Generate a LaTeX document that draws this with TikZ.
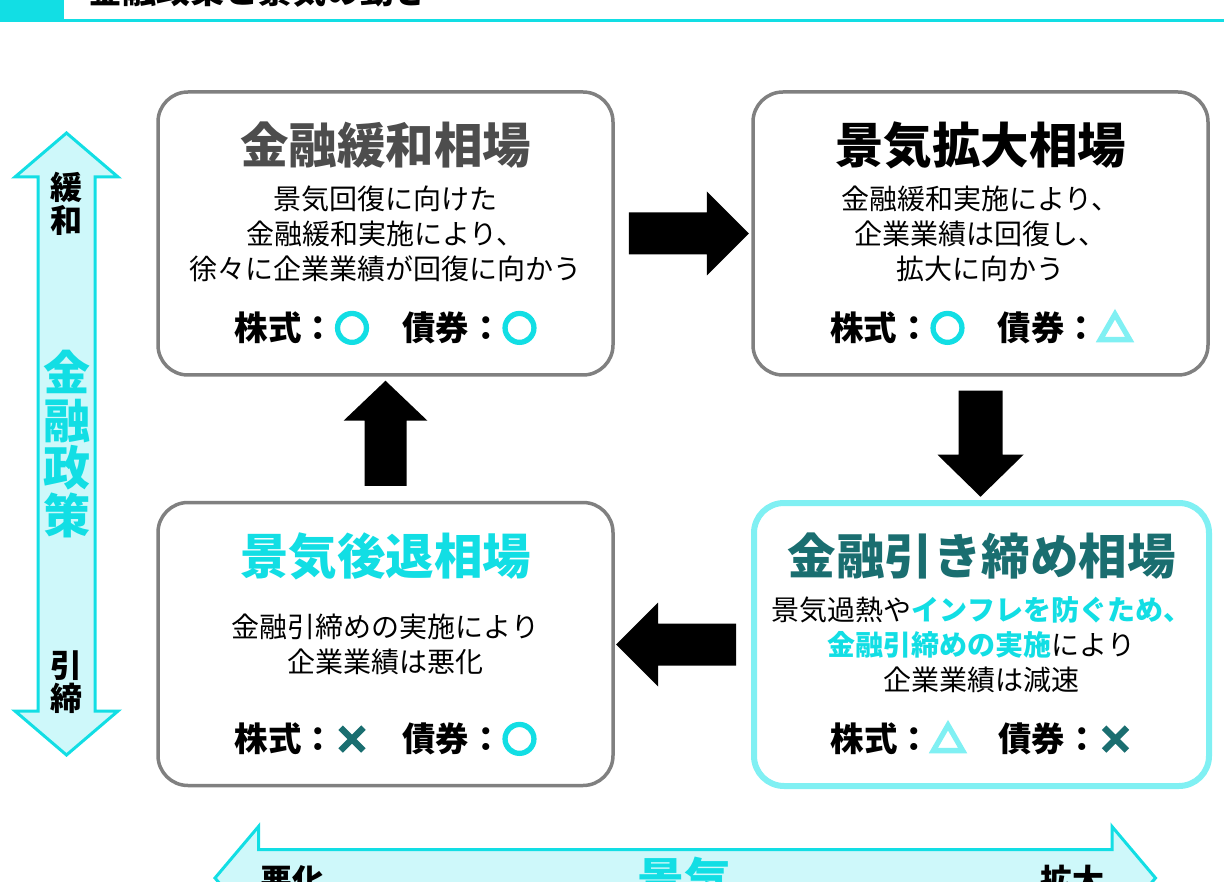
\documentclass[tikz,border=0pt]{standalone}
\usepackage{fontspec}
\newfontfamily\jpfont{Noto Sans CJK JP}
\newfontfamily\markfont[FakeBold=12]{Noto Sans CJK JP}
\usetikzlibrary{calc}

\definecolor{kcyan}{RGB}{18,222,228}
\definecolor{klight}{RGB}{128,240,243}
\definecolor{kpale}{RGB}{206,248,250}
\definecolor{kteal}{RGB}{26,110,112}
\definecolor{boxgray}{RGB}{128,128,128}
\definecolor{titlegray}{RGB}{77,77,77}

\begin{document}
\begin{tikzpicture} [x=1pt, y=-1pt, font=\jpfont,
  phase/.style={draw=boxgray, line width=3.5pt, rounded corners=30pt, fill=white,
    minimum width=455pt, minimum height=283pt, inner sep=0pt},
  phasehot/.style={phase, draw=klight, line width=6pt},
  phasetitle/.style={inner sep=0pt, font={\jpfont\bfseries\fontsize{48.5}{50}\selectfont}},
  phasetext/.style={inner sep=0pt, align=center, font={\jpfont\fontsize{28}{35}\selectfont}},
  phaserow/.style={inner sep=0pt, font={\jpfont\bfseries\fontsize{33.5}{35}\selectfont}},
  sidelabel/.style={inner sep=0pt, align=center, font={\jpfont\bfseries\fontsize{32}{33}\selectfont}},
  sidebig/.style={inner sep=0pt, align=center, text=kcyan, font={\jpfont\bfseries\fontsize{47}{47.5}\selectfont}},
  bigarrow/.style={draw=kcyan, fill=kpale, line width=3pt, line join=miter}]

                        \useasboundingbox (0,0) rectangle (1224,882);
                        \clip (0,0) rectangle (1224,882);

                        % Header
                        \fill[kcyan] (0,-20) rectangle (64,19.5);
                        \draw[kcyan, line width=2.3pt] (0,20.5) -- (1224,20.5);
                        \node[inner sep=0pt, font={\jpfont\bfseries\fontsize{34}{36}\selectfont}] (header) at (258.5,-9.5) {金融政策と景気の動き};

                        % Policy arrow
                        \draw[bigarrow] (66.5,133) -- (118,177) -- (95,177) -- (95,711) -- (118,711) -- (66.5,755)
                            -- (15,711) -- (38,711) -- (38,177) -- (15,177) -- cycle;
                        \node[sidelabel] (kanwa-l) at (66.5,204) {緩\\和};
                        \node[sidebig] (seisaku) at (66.5,444) {金\\融\\政\\策};
                        \node[sidelabel] (hikishime-l) at (66.5,682) {引\\締};

                        % Economy arrow
                        \draw[bigarrow] (215,878) -- (258.5,826.5) -- (258.5,849.5) -- (1112,849.5) -- (1112,826.5)
                            -- (1155.5,878) -- (1112,929.5) -- (1112,906.5) -- (258.5,906.5) -- (258.5,929.5) -- cycle;
                        \node[sidelabel] (akka) at (292,880) {悪化};
                        \node[sidebig] (keiki) at (684,880) {景気};
                        \node[sidelabel] (kakudai-l) at (1072,880) {拡大};

                        % Phases
                        \node[phase] (kanwa) at (385.5,233.5) {};
                        \node[phase] (kakudai) at (980.5,233.5) {};
                        \node[phasehot] (hikishime) at (981.5,644.5) {};
                        \node[phase] (koutai) at (385.5,644) {};

                        \node[phasetitle, text=titlegray] (kanwa-t) at (385.5,145) {金融緩和相場};
                        \node[phasetitle] (kakudai-t) at (980.5,145) {景気拡大相場};
                        \node[phasetitle, text=kteal] (hikishime-t) at (981.5,556) {金融引き締め相場};
                        \node[phasetitle, text=kcyan] (koutai-t) at (385.5,556) {景気後退相場};

                        \node[phasetext] (kanwa-b) at (385.5,233.5) {景気回復に向けた\\金融緩和実施により、\\徐々に企業業績が回復に向かう};
                        \node[phasetext] (kakudai-b) at (980.5,233.5) {金融緩和実施により、\\企業業績は回復し、\\拡大に向かう};
                        \node[phasetext] (hikishime-b) at (981.5,644.5) {景気過熱や{\bfseries\color{kcyan}インフレを防ぐため、}\\{\bfseries\color{kcyan}金融引締めの実施}により\\企業業績は減速};
                        \node[phasetext] (koutai-b) at (385.5,644.5) {金融引締めの実施により\\企業業績は悪化};

                        \node[phaserow] (kanwa-r) at (385.5,328) {株式：{\markfont\mdseries\color{kcyan}○}　債券：{\markfont\mdseries\color{kcyan}○}};
                        \node[phaserow] (kakudai-r) at (981,328) {株式：{\markfont\mdseries\color{kcyan}○}　債券：{\markfont\mdseries\color{klight}△}};
                        \node[phaserow] (hikishime-r) at (981.5,739) {株式：{\markfont\mdseries\color{klight}△}　債券：{\markfont\mdseries\color{kteal}×}};
                        \node[phaserow] (koutai-r) at (385.5,739) {株式：{\markfont\mdseries\color{kteal}×}　債券：{\markfont\mdseries\color{kcyan}○}};

                        % Cycle
                        \fill ($(kanwa.east)+(14,-21)$) -- ++(78,0) -- ++(0,-21) -- ++(42,42) -- ++(-42,42) -- ++(0,-21) -- ++(-78,0) -- cycle;
                        \fill ($(kakudai.south)+(-22,14)$) -- ++(44,0) -- ++(0,64) -- ++(21,0) -- ++(-43,42) -- ++(-43,-42) -- ++(21,0) -- cycle;
                        \fill ($(hikishime.west)+(-15,-21)$) -- ++(0,42) -- ++(-78,0) -- ++(0,21) -- ++(-42,-42) -- ++(42,-42) -- ++(0,21) -- cycle;
                        \fill ($(koutai.north)+(-21,-15)$) -- ++(42,0) -- ++(0,-65) -- ++(21,0) -- ++(-42,-40) -- ++(-42,40) -- ++(21,0) -- cycle;
                    \end{tikzpicture}
\end{document}
